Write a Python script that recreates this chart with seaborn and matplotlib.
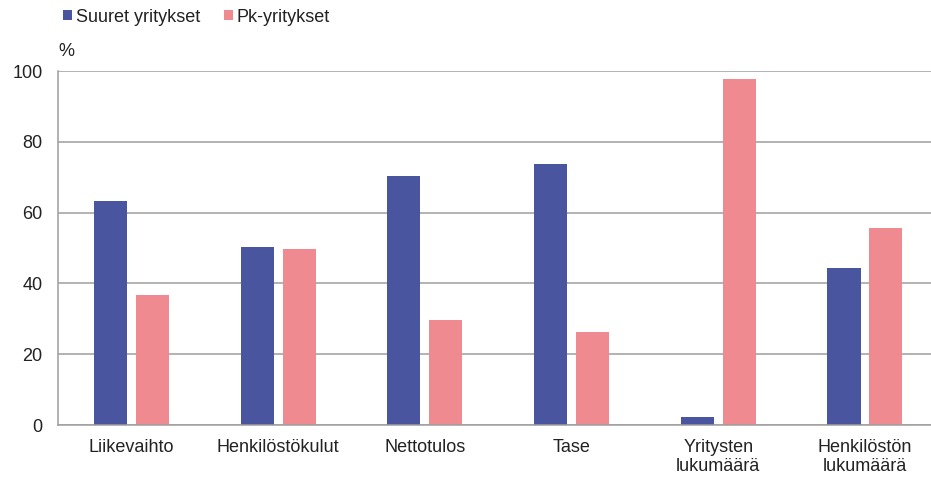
import matplotlib
matplotlib.use("Agg")
import matplotlib.pyplot as plt
import seaborn as sns
import pandas as pd

categories = ["Liikevaihto", "Henkilöstökulut", "Nettotulos", "Tase",
              "Yritysten\nlukumäärä", "Henkilöstön\nlukumäärä"]
series_names = ["Suuret yritykset", "Pk-yritykset"]
suuret = [63.4, 50.3, 70.2, 73.6, 2.2, 44.4]
pk = [36.6, 49.7, 29.8, 26.4, 97.8, 55.6]
y_ticks = [0, 20, 40, 60, 80, 100]

colors = {"Suuret yritykset": "#4A55A0", "Pk-yritykset": "#F08A91"}

df = pd.DataFrame({
    "kategoria": categories * 2,
    "sarja": [series_names[0]] * len(categories) + [series_names[1]] * len(categories),
    "arvo": suuret + pk,
})

sns.set_theme(style="white")
plt.rcParams["font.family"] = ["Liberation Sans", "DejaVu Sans"]

fig = plt.figure(figsize=(9.31, 4.78), dpi=100)
ax = fig.add_axes([58 / 931, (478 - 425) / 478, (931 - 58) / 931, 354 / 478])

sns.barplot(data=df, x="kategoria", y="arvo", hue="sarja", order=categories,
            hue_order=series_names, palette=colors, width=0.572, gap=0.213,
            linewidth=0, saturation=1, ax=ax, legend=True)

ax.set_xlim(-0.5, 5.45)
ax.set_ylim(0, 100)
ax.set_yticks(y_ticks)
ax.set_xlabel("")
ax.set_ylabel("")
ax.yaxis.grid(True, color="#9E9E9E", linewidth=1.1)
ax.set_axisbelow(True)
for side in ["top", "right"]:
    ax.spines[side].set_visible(False)
for side in ["left", "bottom"]:
    ax.spines[side].set_color("#9E9E9E")
    ax.spines[side].set_linewidth(1.1)
ax.tick_params(axis="both", length=0, labelsize=13, colors="#222222")
ax.tick_params(axis="x", pad=10)
ax.tick_params(axis="y", pad=11)
for lbl in ax.get_xticklabels():
    lbl.set_linespacing(1.2)

ax.text(58 / 931, 1 - 52 / 478, "%", transform=fig.transFigure, fontsize=13,
        color="#222222", ha="left", va="center")

handles, labels = ax.get_legend_handles_labels()
ax.legend(handles, labels, loc="center left", bbox_to_anchor=(47 / 931, 1 - 17 / 478),
          bbox_transform=fig.transFigure, ncol=2, frameon=False, fontsize=13,
          handlelength=0.5, handleheight=0.5, handletextpad=0.2,
          columnspacing=1.3, labelcolor="#222222")

fig.savefig("out.png", dpi=100)
